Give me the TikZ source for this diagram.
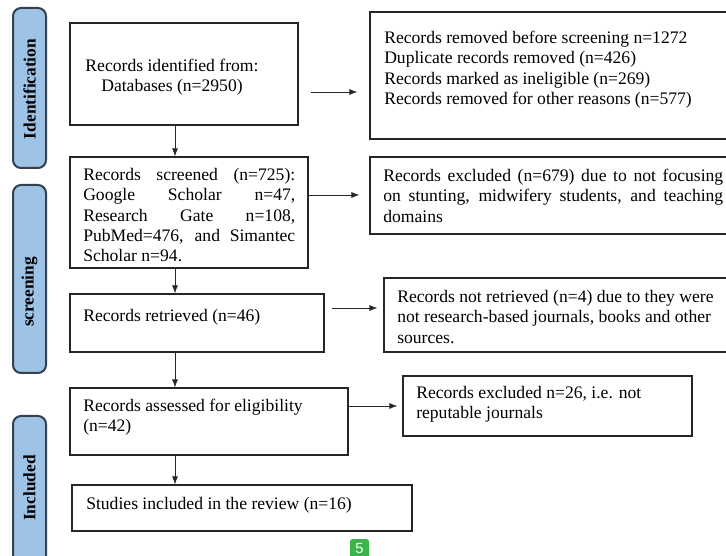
\documentclass[tikz,border=0pt]{standalone}
\usepackage{fontspec}
\setmainfont{Liberation Serif}
\newfontfamily\badgefont{Liberation Sans}
\usetikzlibrary{fit,arrows.meta}
\definecolor{tabfill}{HTML}{9DC3E6}
\definecolor{tabborder}{HTML}{34404F}
\definecolor{badgegreen}{HTML}{3BB54A}
\begin{document}
\begin{tikzpicture}[x=0.75pt,y=-0.75pt,
  box/.style={draw=black!85,line width=0.9pt,inner sep=0pt},
  txt/.style={inner sep=0pt,anchor=north west,font=\fontsize{13.2}{15.3}\selectfont,align=left},
  tab/.style={draw=tabborder,fill=tabfill,line width=1.5pt,rounded corners=6pt,inner sep=0pt},
  tablabel/.style={rotate=90,font=\fontsize{13}{15}\selectfont\bfseries},
  arr/.style={-{Latex[length=6pt,width=4.5pt]},line width=0.6pt,draw=black!85}]
\clip (0,0) rectangle (726,556);
% phase tabs
\node[tab,fit={(13,8)(46,168)}] (t1) {};
\node[tab,fit={(13,185)(46,373)}] (t2) {};
\node[tab,fit={(13,416)(46,580)}] (t3) {};
\node[tablabel] (t1l) at (29.5,89) {Identification};
\node[tablabel] (t2l) at (29.5,292) {screening};
\node[tablabel] (t3l) at (29.5,488) {Included};
% left boxes
\node[box,fit={(70,23)(298,125)}] (b1) {};
\node[box,fit={(70,157)(308,268)}] (b2) {};
\node[box,fit={(70,294)(324,352)}] (b3) {};
\node[box,fit={(70,388)(348,455)}] (b4) {};
\node[box,fit={(72,485)(412,531)}] (b5) {};
% right boxes
\node[box,fit={(370,12)(740,139)}] (r1) {};
\node[box,fit={(370,157)(740,234)}] (r2) {};
\node[box,fit={(384,278)(740,352)}] (r3) {};
\node[box,fit={(403,376)(692,436)}] (r4) {};
% texts
\node[txt,anchor=north,align=center] (b1t) at (172,56.7) {\strut Records identified from:\\ Databases (n=2950)};
\node[txt,text width=159pt,align=justify] (b2t) at (83,165.7) {\strut Records screened (n=725):\linebreak Google Scholar n=47,\linebreak Research Gate n=108,\linebreak PubMed=476, and Simantec\linebreak Scholar n=94.};
\node[txt] (b3t) at (83,306.7) {\strut Records retrieved (n=46)};
\node[txt] (b4t) at (83,396.7) {\strut Records assessed for eligibility\\(n=42)};
\node[txt] (b5t) at (86,494.7) {\strut Studies included in the review (n=16)};
\node[txt] (r1t) at (384,28.7) {\strut Records removed before screening n=1272\\Duplicate records removed (n=426)\\Records marked as ineligible (n=269)\\Records removed for other reasons (n=577)};
\node[txt,text width=255pt,align=justify] (r2t) at (383,166.7) {\strut Records excluded (n=679) due to not focusing\linebreak on stunting, midwifery students, and teaching\linebreak domains};
\node[txt] (r3t) at (397,287.7) {\strut Records not retrieved (n=4) due to they were\\not research-based journals, books and other\\sources.};
\node[txt] (r4t) at (416,383.7) {\strut Records excluded n=26, i.e. not\\reputable journals};
% connectors
\coordinate (spine) at (175,0);
\draw[arr] (b1.south -| spine) -- (b2.north -| spine);
\draw[arr] (b2.south -| spine) -- (b3.north -| spine);
\draw[arr] (b3.south -| spine) -- (b4.north -| spine);
\draw[arr] (b4.south -| spine) -- (b5.north -| spine);
\coordinate (h1) at (0,92);
\coordinate (h2) at (0,195);
\coordinate (h3) at (0,308);
\coordinate (h4) at (0,406);
\draw[arr] ([xshift=9pt]b1.east |- h1) -- ([xshift=-9pt]r1.west |- h1);
\draw[arr] (b2.east |- h2) -- ([xshift=-7.5pt]r2.west |- h2);
\draw[arr] ([xshift=5.25pt]b3.east |- h3) -- ([xshift=-4.5pt]r3.west |- h3);
\draw[arr] (b4.east |- h4) -- ([xshift=-3.75pt]r4.west |- h4);
% page badge
\node[fill=badgegreen,rounded corners=2pt,text=white,font=\badgefont\fontsize{11}{11}\selectfont,minimum width=14.25pt,minimum height=15pt,inner sep=0pt] (badge) at (359.5,549) {5};
\end{tikzpicture}
\end{document}
